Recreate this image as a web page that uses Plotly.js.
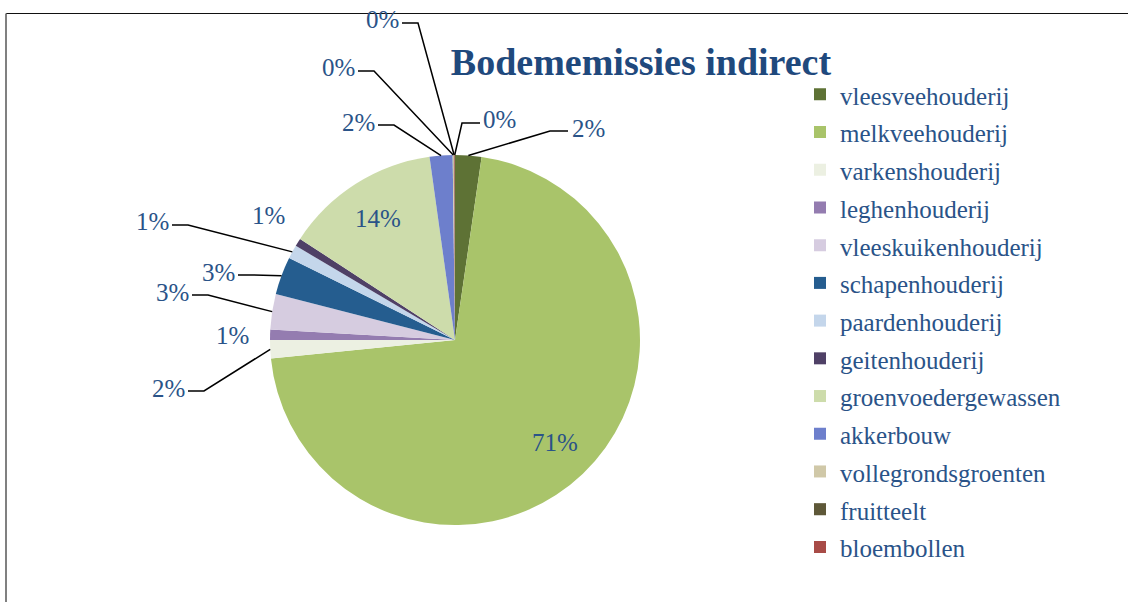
<!DOCTYPE html>
<html><head><meta charset="utf-8">
<script src="https://cdn.plot.ly/plotly-3.0.1.min.js"></script>
<style>html,body{margin:0;padding:0;background:#fff;}#chart{width:1128px;height:602px;}</style>
</head><body><div id="chart"></div>
<script>
// ---- data ----
const categories = ['vleesveehouderij','melkveehouderij','varkenshouderij','leghenhouderij','vleeskuikenhouderij','schapenhouderij','paardenhouderij','geitenhouderij','groenvoedergewassen','akkerbouw','vollegrondsgroenten','fruitteelt','bloembollen'];
const values = [2.3, 71.1, 1.6, 0.9, 3.1, 3.3, 1.2, 0.7, 13.6, 2.0, 0.1, 0.05, 0.05];
const chartTitle = 'Bodememissies indirect';

// ---- styles ----
const colors = ['#5E7235','#A9C46A','#ECF0E2','#947CB0','#D6CCE0','#255D8F','#C4D6EB','#4F4066','#CDDCAB','#6D7FCC','#D0C8A8','#5E5838','#A84B47'];
const W = 1128, H = 602;
const cx = 455, cy = 340, R = 185;            // pie placement (px)
const labelPos = [[588,128],[555,442],[168,388],[232,335],[172,292],[218,272],[152,222],[268,215],[378,218],[358,122],[338,68],[382,20],[500,120]];
const hasLeader = [true,false,true,false,true,true,true,false,false,true,true,true,true];
const textColor = '#2A5388';
const serif = 'Liberation Serif';

const px = x => x / W, py = y => 1 - y / H;
const total = values.reduce((a,b)=>a+b,0);

const annotations = [], shapes = [];
// frame
shapes.push({type:'line', xref:'paper', yref:'paper', x0:px(6), x1:px(1128), y0:py(13.5), y1:py(13.5), line:{color:'#111', width:1.2}, layer:'below'});
shapes.push({type:'line', xref:'paper', yref:'paper', x0:px(6), x1:px(6), y0:py(13.5), y1:py(602), line:{color:'#808080', width:2}, layer:'below'});

let cum = 0;
values.forEach((v,i)=>{
  const mid = (cum + v/2) / total; cum += v;
  const th = mid * 2 * Math.PI;
  const sx = cx + R*Math.sin(th), sy = cy - R*Math.cos(th);
  const [tx,ty] = labelPos[i];
  annotations.push({x:px(tx), y:py(ty), xref:'paper', yref:'paper', showarrow:false,
    text: Math.round(v/total*100) + '%', font:{family:serif, size:25, color:textColor},
    xanchor:'center', yanchor:'middle'});
  if (hasLeader[i]) {
    const left = tx < sx;
    const x0 = left ? tx + 20 : tx - 20, y0 = ty + 3;
    const x1 = left ? x0 + 16 : x0 - 18;
    shapes.push({type:'path', xref:'paper', yref:'paper',
      path:`M${px(x0)},${py(y0)} L${px(x1)},${py(y0)} L${px(sx)},${py(sy)}`,
      line:{color:'#000', width:1.5}});
  }
});

const trace = {
  type:'pie', labels: categories.map(c=>`<span style="font-size:25px">${c}</span>`), values: values,
  sort:false, direction:'clockwise', rotation:0,
  marker:{colors:colors, line:{width:0}}, textinfo:'none', textposition:'none',
  domain:{x:[px(cx-R), px(cx+R)], y:[py(cy+R), py(cy-R)]},
  hoverinfo:'label+percent'
};
const layout = {
  width:W, height:H, margin:{l:0,r:0,t:0,b:0}, paper_bgcolor:'#fff',
  font:{family:serif},
  title:{text:chartTitle, x:px(641), xanchor:'center', y:py(62), yanchor:'middle',
    font:{family:serif, size:38, color:'#1F497D', weight:'bold'}},
  showlegend:true,
  legend:{x:px(800), xanchor:'left', y:py(70.5), yanchor:'top', font:{family:serif, size:26.7, color:textColor}, bgcolor:'rgba(0,0,0,0)'},
  annotations: annotations, shapes: shapes
};
Plotly.newPlot('chart', [trace], layout, {displayModeBar:false, staticPlot:true});
</script></body></html>
